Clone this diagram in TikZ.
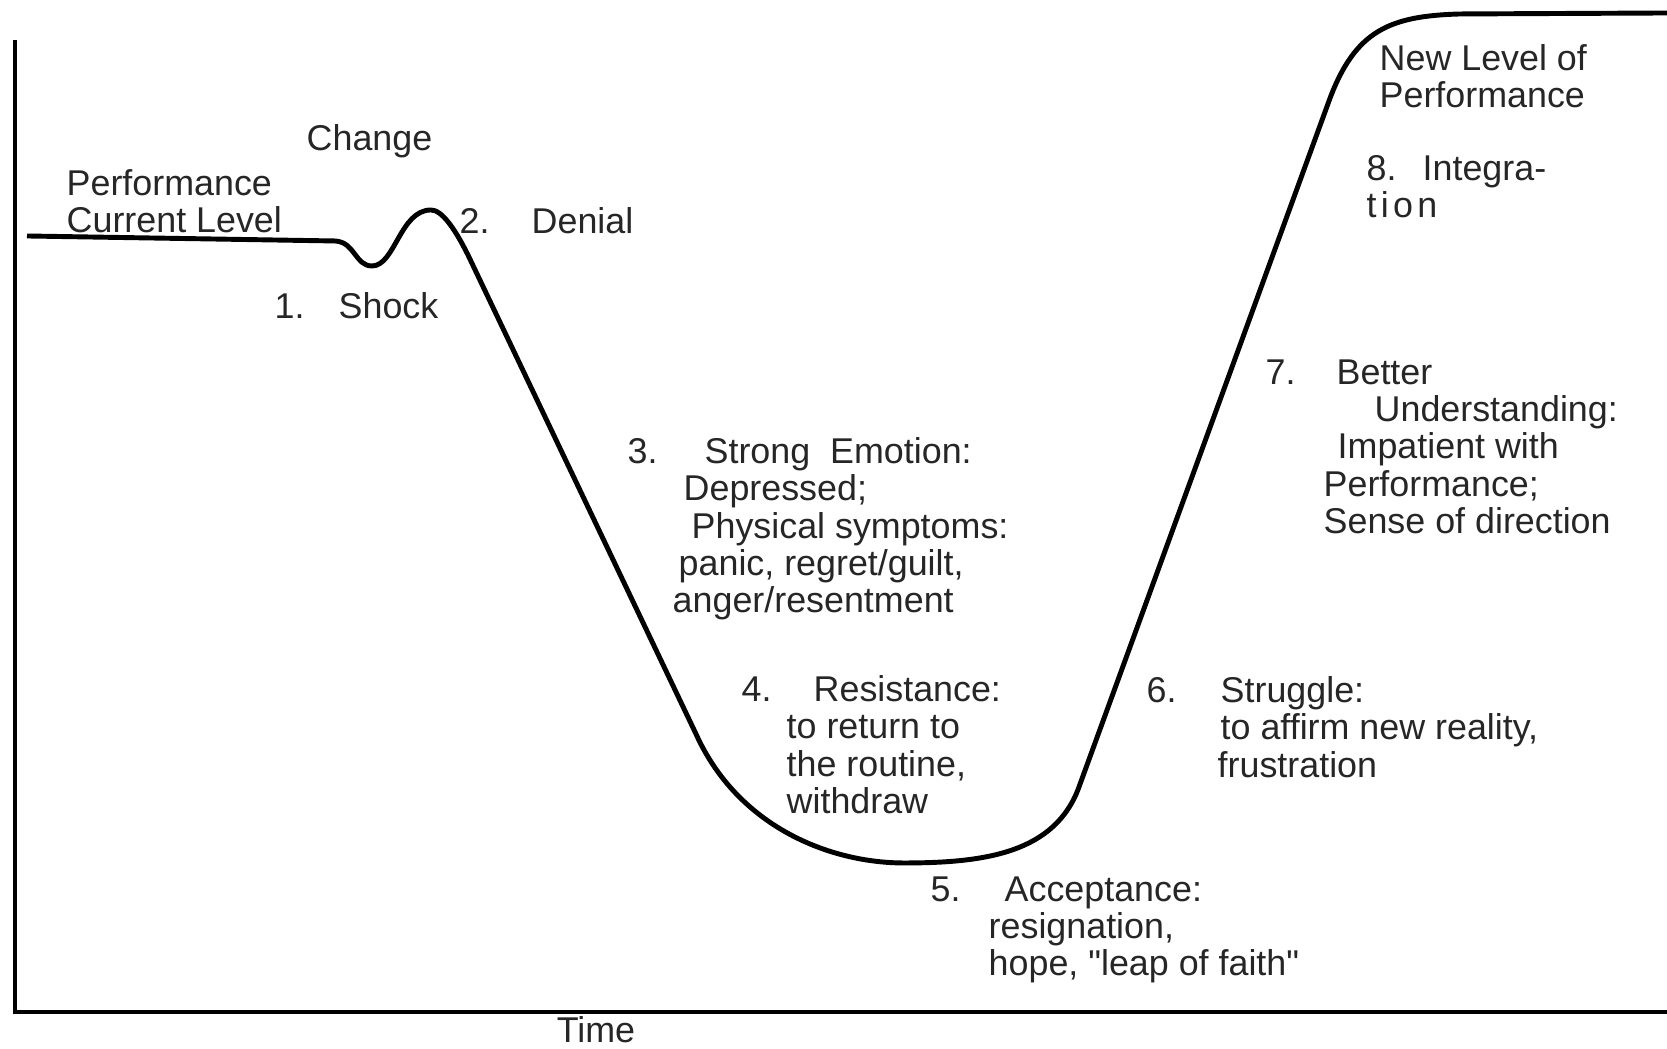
\documentclass[tikz,border=0pt]{standalone}
\usepackage{fontspec}
\setmainfont{Liberation Sans}
\newcommand{\stepno}[2][0.72cm]{\makebox[#1][l]{#2}}

\begin{document}
\begin{tikzpicture}[every node/.style={inner sep=0pt,anchor=north west,align=left,font=\fontsize{10.2}{10.6}\selectfont,text=black!85}]
\useasboundingbox (0,0) rectangle (16.67,10.49);
\draw[line width=1.2pt] (0.15,10.09) -- (0.15,0.37) -- (16.67,0.37);
\node[anchor=center] (time) at (5.96,0.19) {Time};
\draw[line width=1.4pt,line join=round] (0.27,8.13) -- (3.35,8.08)
  .. controls (3.55,8.07) and (3.55,7.83) .. (3.72,7.83)
  .. controls (3.95,7.83) and (4.0,8.39) .. (4.31,8.39)
  .. controls (4.42,8.39) and (4.55,8.2) .. (4.68,7.94)
  -- (6.96,3.15) .. controls (7.38,2.22) and (8.3,1.86) .. (9.04,1.86)
  .. controls (9.85,1.86) and (10.55,1.96) .. (10.79,2.62)
  -- (13.29,9.48) .. controls (13.55,10.19) and (13.9,10.33) .. (14.6,10.35)
  -- (16.67,10.36);
\node (change) at (3.06,9.25) {Change};
\node (current) at (0.66,8.80) {Performance\\Current Level};
\node (denial) at (4.59,8.42) {\stepno{2.}Denial};
\node (shock) at (2.74,7.57) {\stepno[0.64cm]{1.}Shock};
\node (emotion) at (6.27,6.12) {\stepno[0.77cm]{3.}Strong\ \ Emotion:\\
  \hspace*{0.56cm}Depressed;\\
  \hspace*{0.64cm}Physical symptoms:\\
  \hspace*{0.51cm}panic, regret/guilt,\\
  \hspace*{0.45cm}anger/resentment};
\node (resist) at (7.41,3.74) {\stepno{4.}Resistance:\\
  \hspace*{0.45cm}to return to\\
  \hspace*{0.45cm}the routine,\\
  \hspace*{0.45cm}withdraw};
\node (accept) at (9.30,1.73) {\stepno[0.74cm]{5.}Acceptance:\\
  \hspace*{0.58cm}resignation,\\
  \hspace*{0.58cm}hope, \textquotedbl leap of faith\textquotedbl};
\node (struggle) at (11.46,3.73) {\stepno[0.74cm]{6.}Struggle:\\
  \hspace*{0.74cm}to affirm new reality,\\
  \hspace*{0.71cm}frustration};
\node (better) at (12.65,6.90) {\stepno[0.71cm]{7.}Better\\
  \hspace*{1.09cm}Understanding:\\
  \hspace*{0.72cm}Impatient with\\
  \hspace*{0.58cm}Performance;\\
  \hspace*{0.58cm}Sense of direction};
\node (integ) at (13.66,8.94) {\stepno[0.56cm]{8.}Integra-\\{\addfontfeature{LetterSpace=12}tion}};
\node (newlevel) at (13.79,10.05) {New Level of\\Performance};
\end{tikzpicture}
\end{document}
